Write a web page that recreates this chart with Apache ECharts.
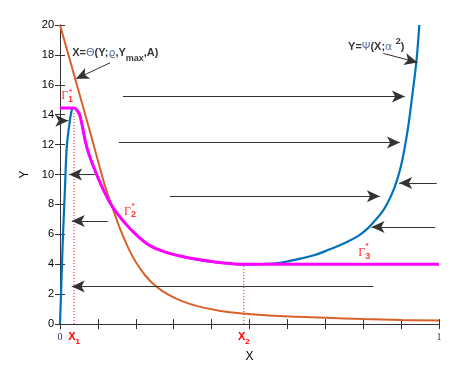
<!DOCTYPE html>
<html><head><meta charset="utf-8">
<script src="https://cdn.jsdelivr.net/npm/echarts@6/dist/echarts.min.js"></script>
<style>html,body{margin:0;padding:0;background:#fff}#c{width:463px;height:368px}</style>
</head><body><div id="c"></div>
<script>
// X = Theta(Y; rho, Ymax, A)  (orange)
const thetaX = [0, 0.04, 0.08, 0.119, 0.137, 0.158, 0.18, 0.2, 0.225, 0.25, 0.28, 0.32, 0.37, 0.42, 0.475, 0.55, 0.625, 0.7, 0.8, 0.9, 1];
const thetaY = [20, 16.4, 12.8, 9.22, 7.9, 6.4, 5.1, 4.15, 3.25, 2.6, 2.05, 1.55, 1.15, 0.9, 0.72, 0.58, 0.49, 0.42, 0.34, 0.28, 0.24];
// Y = Psi(X; alpha^2)  (blue)
const psiX = [0, 0.004, 0.008, 0.013, 0.018, 0.025, 0.03, 0.035, 0.04, 0.045, 0.053, 0.07, 0.088, 0.114, 0.137, 0.17, 0.2, 0.237, 0.28, 0.317, 0.369, 0.42, 0.485, 0.536, 0.58, 0.625, 0.67, 0.712, 0.75, 0.787, 0.812, 0.832, 0.853, 0.872, 0.887, 0.899, 0.908, 0.915, 0.921, 0.929, 0.936, 0.942, 0.948];
const psiY = [0, 3, 6, 9, 11.9, 13.4, 14.2, 14.45, 14.4, 14.3, 13.9, 11.9, 10.55, 9.0, 7.9, 6.8, 6.0, 5.25, 4.8, 4.55, 4.3, 4.12, 4.0, 4.02, 4.1, 4.33, 4.6, 5.0, 5.4, 5.9, 6.4, 6.95, 7.6, 8.5, 9.45, 10.5, 11.6, 12.6, 13.6, 15.2, 16.6, 18.0, 20];
// Gamma* = Gamma1* U Gamma2* U Gamma3*  (magenta)
const gammaX = [0, 0.037, 0.045, 0.053, 0.07, 0.088, 0.114, 0.137, 0.17, 0.2, 0.237, 0.28, 0.317, 0.369, 0.42, 0.485, 1];
const gammaY = [14.45, 14.45, 14.3, 13.9, 11.9, 10.55, 9.0, 7.9, 6.8, 6.0, 5.25, 4.8, 4.55, 4.3, 4.12, 4.0, 4.0];
const X1 = 0.037, X2 = 0.485;
const Y1 = 14.2, Y2 = 4.0;
const yTicks = [0, 2, 4, 6, 8, 10, 12, 14, 16, 18, 20];
const xTickLabels = ['0', 'X1', 'X2', '1'];
// flow arrows [xFrom, yFrom, xTo, yTo]
const arrows = [
  [0.166, 15.22, 0.91, 15.22],
  [0.155, 12.15, 0.897, 12.15],
  [0.29, 8.55, 0.844, 8.55],
  [0.827, 2.51, 0.031, 2.51],
  [0.092, 10.0, 0.024, 10.0],
  [0.126, 6.9, 0.031, 6.9],
  [0.994, 9.44, 0.895, 9.44],
  [0.99, 6.49, 0.822, 6.49],
  [0.0, 13.6, 0.022, 13.6]
];
// pointer arrows from captions to curves
const pointers = [
  [0.132, 17.47, 0.042, 16.4],
  [0.853, 18.1, 0.943, 17.5]
];
// caption anchors [x, y]
const captionTheta = [0.032, 18.13];
const captionPsi = [0.76, 18.55];
const gammaLabels = [[0.003, 15.25, '1'], [0.169, 7.53, '2'], [0.787, 4.78, '3']];
const gammaStars = [[0.028, 15.55], [0.193, 7.93], [0.81, 5.22]];

const zip = (a, b) => a.map((v, i) => [v, b[i]]);
const SANS = 'Liberation Sans, Arial, sans-serif';
const SERIF = 'Liberation Serif, Times New Roman, serif';

const chart = echarts.init(document.getElementById('c'), null, {renderer: 'canvas'});

const subStyle = (c, fs) => ({fontFamily: SANS, fontWeight: 'bold', fontSize: fs, color: c, verticalAlign: 'bottom', lineHeight: 10});
const supStyle = (c, fs) => ({fontFamily: SANS, fontWeight: 'bold', fontSize: fs, color: c, verticalAlign: 'top', lineHeight: 10});

const textItems = [];
textItems.push({
  value: captionTheta,
  label: {
    show: true, position: 'right', distance: 0,
    formatter: '{b|X=}{g|\u0398}{b|(Y;}{g|\u03f1}{b|,Y}{s|max}{b|,A)}',
    rich: {
      b: {fontFamily: SANS, fontWeight: 'bold', fontSize: 11, color: '#000', lineHeight: 20},
      g: {fontFamily: 'DejaVu Sans', fontSize: 11, color: '#33508c', lineHeight: 20},
      s: subStyle('#000', 9)
    }
  }
});
textItems.push({
  value: captionPsi,
  label: {
    show: true, position: 'right', distance: 0,
    formatter: '{b|Y=}{g|\u03a8}{b|(X;}{g|\u03b1 }{p|2}{b|)}',
    rich: {
      b: {fontFamily: SANS, fontWeight: 'bold', fontSize: 11, color: '#000', lineHeight: 20},
      g: {fontFamily: 'DejaVu Sans', fontSize: 11, color: '#33508c', lineHeight: 20},
      p: supStyle('#000', 9)
    }
  }
});
gammaLabels.forEach(g => textItems.push({
  value: [g[0], g[1]],
  label: {
    show: true, position: 'right', distance: 0,
    formatter: '{g|\u0393}{s|' + g[2] + '}',
    rich: {
      g: {fontFamily: SERIF, fontSize: 12, color: '#ff0000', lineHeight: 16},
      s: {fontFamily: SANS, fontWeight: 'bold', fontSize: 9, color: '#ff0000', verticalAlign: 'bottom', lineHeight: 9}
    }
  }
}));
gammaStars.forEach(s => textItems.push({
  value: s,
  label: {show: true, position: 'inside', formatter: '*', fontFamily: SANS, fontSize: 8, fontWeight: 'bold', color: '#ff0000'}
}));

const arrowLine = (list, name) => ({
  type: 'line', name: name, data: [], silent: true, animation: false,
  markLine: {
    silent: true, animation: false,
    symbol: ['none', 'arrow'], symbolSize: [9, 13],
    label: {show: false},
    lineStyle: {color: '#333', width: 1, type: 'solid'},
    emphasis: {disabled: true},
    data: list.map(a => [{coord: [a[0], a[1]]}, {coord: [a[2], a[3]]}])
  }
});

const option = {
  backgroundColor: '#fff',
  animation: false,
  grid: {left: 60, right: 24, top: 25, bottom: 43, containLabel: false},
  xAxis: [{
    type: 'value', min: 0, max: 1, interval: 0.1, position: 'bottom',
    name: 'X', nameLocation: 'middle', nameGap: 20,
    nameTextStyle: {fontFamily: SANS, fontSize: 12, color: '#000'},
    axisLine: {show: true, lineStyle: {color: '#333', width: 1}},
    axisTick: {show: true, inside: true, length: 5, lineStyle: {color: '#333'}},
    splitLine: {show: false},
    axisLabel: {
      show: true, margin: 4,
      customValues: [0, X1, X2, 1],
      formatter: v => {
        if (v === 0) return '{n|' + xTickLabels[0] + '}';
        if (v === 1) return '{n|' + xTickLabels[3] + '}';
        const t = v === X1 ? xTickLabels[1] : xTickLabels[2];
        return '{r|' + t[0] + '}{rs|' + t[1] + '}';
      },
      rich: {
        n: {fontFamily: SERIF, fontSize: 10, color: '#1d2c5c', lineHeight: 18},
        r: {fontFamily: SANS, fontWeight: 'bold', fontSize: 11, color: '#ff0000', lineHeight: 18},
        rs: {fontFamily: SANS, fontWeight: 'bold', fontSize: 8, color: '#ff0000', verticalAlign: 'bottom', lineHeight: 9}
      }
    }
  }, {
    type: 'value', min: 0, max: 1, interval: 0.1, position: 'top',
    axisLine: {show: true, lineStyle: {color: '#333', width: 1}},
    axisTick: {show: true, inside: true, length: 5, lineStyle: {color: '#333'}},
    axisLabel: {show: false}, splitLine: {show: false}
  }],
  yAxis: [{
    type: 'value', min: 0, max: 20, interval: 2, position: 'left',
    name: 'Y', nameLocation: 'middle', nameGap: 17, nameRotate: 90,
    nameTextStyle: {fontFamily: SANS, fontSize: 12, color: '#000'},
    axisLine: {show: true, lineStyle: {color: '#333', width: 1}},
    axisTick: {show: true, inside: true, length: 5, lineStyle: {color: '#333'}},
    splitLine: {show: false},
    axisLabel: {show: true, margin: 6, fontFamily: SANS, fontSize: 11, color: '#000',
      formatter: v => yTicks.includes(v) ? String(v) : ''}
  }, {
    type: 'value', min: 0, max: 20, interval: 2, position: 'right',
    axisLine: {show: true, lineStyle: {color: '#333', width: 1}},
    axisTick: {show: true, inside: true, length: 5, lineStyle: {color: '#333'}},
    axisLabel: {show: false}, splitLine: {show: false}
  }],
  series: [
    {type: 'line', name: 'Theta', data: zip(thetaX, thetaY), showSymbol: false, smooth: 0.4,
      lineStyle: {color: '#d9612b', width: 2}, silent: true, clip: true},
    {type: 'line', name: 'Psi', data: zip(psiX, psiY), showSymbol: false, smooth: 0.4,
      lineStyle: {color: '#0072bd', width: 2.2}, silent: true, clip: true},
    {type: 'line', name: 'Gamma', data: zip(gammaX, gammaY), showSymbol: false, smooth: 0.4,
      lineStyle: {color: '#ff00ff', width: 3}, silent: true, clip: true},
    {type: 'line', name: 'x1', data: [[X1, 0], [X1, Y1]], showSymbol: false,
      lineStyle: {color: '#ff0000', width: 1, type: [1, 2]}, silent: true},
    {type: 'line', name: 'x2', data: [[X2, 0], [X2, Y2]], showSymbol: false,
      lineStyle: {color: '#ff0000', width: 1, type: [1, 2]}, silent: true},
    arrowLine(arrows, 'arrows'),
    arrowLine(pointers, 'pointers'),
    {type: 'scatter', name: 'text', data: textItems, symbolSize: 0, silent: true, clip: false, z: 10}
  ]
};
chart.setOption(option);
</script>
</body></html>
